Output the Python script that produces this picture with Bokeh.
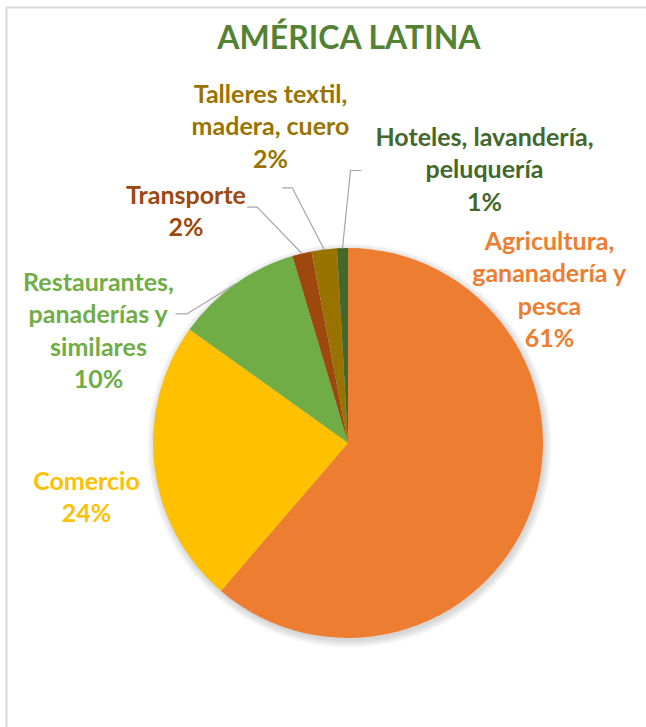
import numpy as np
from bokeh.plotting import figure
from bokeh.models import Range1d, ColumnDataSource
from bokeh.core.properties import value
from bokeh.embed import file_html
from bokeh.resources import INLINE

# ---- data ----
categories = ["Agricultura,\ngananadería y\npesca", "Comercio",
              "Restaurantes,\npanaderías y\nsimilares", "Transporte",
              "Talleres textil,\nmadera, cuero", "Hoteles, lavandería,\npeluquería"]
shares = [61.3, 23.6, 10.5, 1.6, 2.1, 0.9]
pct_labels = ["61%", "24%", "10%", "2%", "2%", "1%"]
colors = ["#ED7D31", "#FFC000", "#70AD47", "#9E480E", "#997300", "#43682B"]
title_text = "AMÉRICA LATINA"

# ---- layout (screen px) ----
W, H = 646, 727
def Y(y):
    return H - y

cx, cy, R = 347.5, Y(442.5), 195.0
# label block: centre x, first line vertical centre (screen y)
label_pos = [(549, 239), (86, 479), (98, 280), (185.5, 193), (270, 92), (484, 135)]
line_step = 32.5
# leader lines: (x start, x elbow, y) for labels with leader
leaders = {2: (175, 186.7, 313.3), 3: (246.7, 256.7, 206.7),
           4: (281.7, 291.7, 187.3), 5: (361, 350, 170)}

p = figure(width=W, height=H, output_backend="svg", toolbar_location=None,
           x_range=Range1d(0, W), y_range=Range1d(0, H), min_border=0)
p.axis.visible = False
p.grid.visible = False
p.outline_line_color = None
p.background_fill_color = "white"

# chart-area border (right and bottom edges fall outside the window)
p.line(x=[6, 6, W + 10], y=[-10, Y(7), Y(7)], line_color="#D9D9D9", line_width=2)

# soft shadow
for i in range(8):
    p.circle(x=[cx + 1.5], y=[cy - 2.5], radius=R + 0.4 + i * 1.0,
             fill_color="black", fill_alpha=0.018, line_color=None)

total = float(sum(shares))
cum = np.concatenate([[0], np.cumsum(shares)]) / total
starts = np.pi / 2 - 2 * np.pi * cum[:-1]
ends = np.pi / 2 - 2 * np.pi * cum[1:]
src = ColumnDataSource(dict(start=starts, end=ends, color=colors))
p.wedge(x=cx, y=cy, radius=R, start_angle="start", end_angle="end",
        direction="clock", fill_color="color", line_color=None, source=src)

# leader lines
mids = (cum[:-1] + cum[1:]) / 2
for i, (xs, xe, yl) in leaders.items():
    ang = np.pi / 2 - 2 * np.pi * mids[i]
    px, py = cx + R * np.cos(ang), cy + R * np.sin(ang)
    p.line(x=[xs, xe, px], y=[Y(yl), Y(yl), py], line_color="#A6A6A6", line_width=1.2)

# labels
tx, ty, tt, tc = [], [], [], []
for i, name in enumerate(categories):
    lines = name.split("\n") + [pct_labels[i]]
    x0, b0 = label_pos[i]
    for k, ln in enumerate(lines):
        tx.append(x0)
        ty.append(Y(b0 + k * line_step))
        tt.append(ln)
        tc.append(colors[i])
p.text(x="x", y="y", text="t", text_color="c",
       source=ColumnDataSource(dict(x=tx, y=ty, t=tt, c=tc)),
       text_font=value("Lato"), text_font_style="bold", text_font_size="25px",
       text_align="center", text_baseline="middle")

p.text(x=[349], y=[Y(36)], text=[title_text], text_color="#548235",
       text_font=value("Lato"), text_font_style="bold", text_font_size="32px",
       text_align="center", text_baseline="middle")

open("out.html", "w").write(file_html(p, INLINE))
